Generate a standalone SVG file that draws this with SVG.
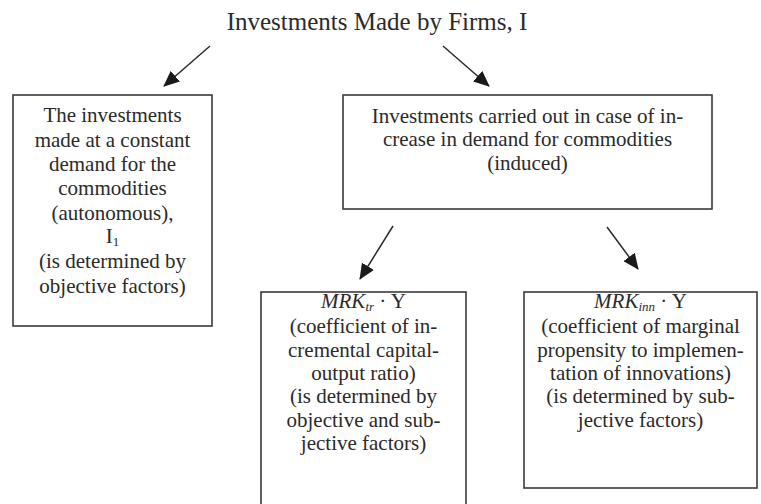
<svg xmlns="http://www.w3.org/2000/svg" width="761" height="504" viewBox="0 0 761 504">
<defs>
<style>
.t{font-family:"Liberation Serif","Times New Roman",serif;font-size:21px;fill:#2a2a2a;text-anchor:middle}
.title{font-size:25px}
.box{fill:#fff;stroke:#3a3a3a;stroke-width:1.6}
.arr{stroke:#2a2a2a;stroke-width:1.5;fill:none;marker-end:url(#ah)}
.sub{font-size:13px}
</style>
<marker id="ah" markerUnits="userSpaceOnUse" markerWidth="16" markerHeight="14" refX="15" refY="7" orient="auto">
<path d="M0,0 L16,7 L0,14 Z" fill="#1a1a1a"/>
</marker>
</defs>
<rect width="761" height="504" fill="#fff"/>
<g id="title">
<text class="t title" x="377" y="30">Investments Made by Firms, I</text>
</g>
<g id="connectors">
<line class="arr" x1="210" y1="46" x2="164" y2="86"/>
<line class="arr" x1="443" y1="46" x2="489" y2="86"/>
<line class="arr" x1="393" y1="226" x2="360" y2="279"/>
<line class="arr" x1="607" y1="227" x2="638" y2="269"/>
</g>
<g id="autonomous">
<rect class="box" x="13" y="95" width="199" height="231"/>
<text class="t" x="112.5" y="122">The investments</text>
<text class="t" x="112.5" y="147">made at a constant</text>
<text class="t" x="112.5" y="171">demand for the</text>
<text class="t" x="112.5" y="195">commodities</text>
<text class="t" x="112.5" y="220">(autonomous),</text>
<text class="t" x="112.5" y="243">I<tspan class="sub" dy="3">1</tspan></text>
<text class="t" x="112.5" y="268">(is determined by</text>
<text class="t" x="112.5" y="293">objective factors)</text>
</g>
<g id="induced">
<rect class="box" x="343" y="95" width="369" height="114"/>
<text class="t" x="527.5" y="123">Investments carried out in case of in-</text>
<text class="t" x="527.5" y="146">crease in demand for commodities</text>
<text class="t" x="527.5" y="170">(induced)</text>
</g>
<g id="mrk-tr">
<rect class="box" x="261" y="292" width="205" height="220"/>
<text class="t" x="363.5" y="308"><tspan font-style="italic">MRK</tspan><tspan class="sub" font-style="italic" dy="3">tr</tspan><tspan dy="-3"> · Y</tspan></text>
<text class="t" x="363.5" y="333">(coefficient of in-</text>
<text class="t" x="363.5" y="357">cremental capital-</text>
<text class="t" x="363.5" y="380">output ratio)</text>
<text class="t" x="363.5" y="403">(is determined by</text>
<text class="t" x="363.5" y="427">objective and sub-</text>
<text class="t" x="363.5" y="450">jective factors)</text>
</g>
<g id="mrk-inn">
<rect class="box" x="524" y="292" width="233" height="196"/>
<text class="t" x="640.5" y="308"><tspan font-style="italic">MRK</tspan><tspan class="sub" font-style="italic" dy="3">inn</tspan><tspan dy="-3"> · Y</tspan></text>
<text class="t" x="640.5" y="333">(coefficient of marginal</text>
<text class="t" x="640.5" y="357">propensity to implemen-</text>
<text class="t" x="640.5" y="380">tation of innovations)</text>
<text class="t" x="640.5" y="403">(is determined by sub-</text>
<text class="t" x="640.5" y="427">jective factors)</text>
</g>
</svg>
